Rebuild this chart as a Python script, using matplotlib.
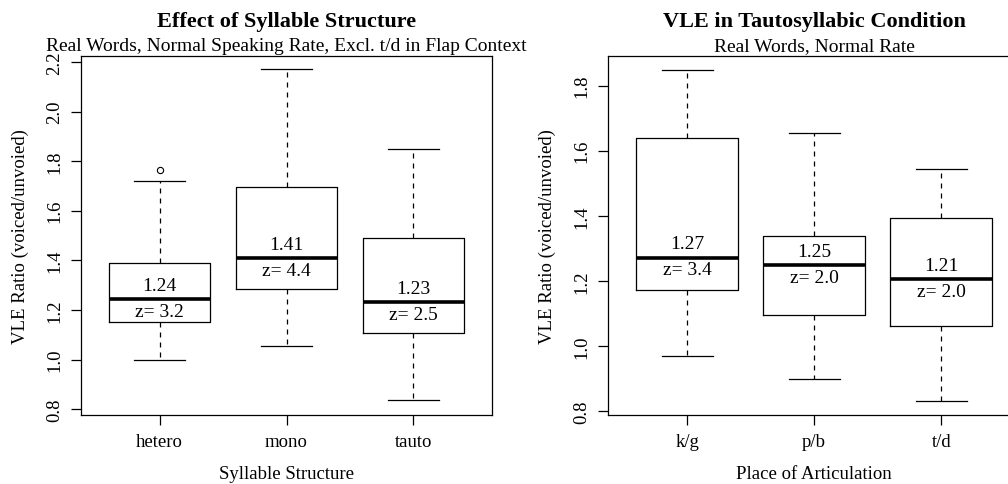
import matplotlib
matplotlib.use("Agg")
import matplotlib.pyplot as plt

plt.rcParams['font.family'] = ['Liberation Serif', 'DejaVu Serif']

# left panel: syllable structure
syl_labels = ["hetero", "mono", "tauto"]
syl_q1 = [1.151, 1.283, 1.106]
syl_med = [1.243, 1.408, 1.232]
syl_q3 = [1.388, 1.696, 1.491]
syl_lo = [1.000, 1.057, 0.836]
syl_hi = [1.720, 2.171, 1.848]
syl_fliers = [[1.766], [], []]
syl_z = ["3.2", "4.4", "2.5"]

# right panel: place of articulation
poa_labels = ["k/g", "p/b", "t/d"]
poa_q1 = [1.172, 1.095, 1.063]
poa_med = [1.271, 1.249, 1.205]
poa_q3 = [1.640, 1.339, 1.394]
poa_lo = [0.971, 0.898, 0.832]
poa_hi = [1.849, 1.654, 1.543]
poa_fliers = [[], [], []]
poa_z = ["3.4", "2.0", "2.0"]


def panel(ax, labels, q1, med, q3, lo, hi, fliers, zs, ylim, yticks,
          title, subtitle, xlabel):
    stats = []
    for i in range(len(labels)):
        stats.append(dict(med=med[i], q1=q1[i], q3=q3[i], whislo=lo[i],
                          whishi=hi[i], fliers=fliers[i], label=labels[i]))
    ax.bxp(stats, positions=[1, 2, 3], widths=0.8, showfliers=True,
           boxprops=dict(color="black", lw=0.9),
           medianprops=dict(color="black", lw=2.6, solid_capstyle="butt"),
           whiskerprops=dict(color="black", lw=0.9, linestyle=(0, (4, 4))),
           capprops=dict(color="black", lw=0.9),
           capwidths=0.4,
           flierprops=dict(marker="o", markerfacecolor="none",
                           markeredgecolor="black", markersize=4.5,
                           markeredgewidth=0.8))
    for i in range(len(labels)):
        ax.annotate("%.2f" % med[i], (i + 1, med[i]), xytext=(0, 14),
                    textcoords="offset pixels", ha="center", va="center",
                    fontsize=14)
        ax.annotate("z= " + zs[i], (i + 1, med[i]), xytext=(0, -12),
                    textcoords="offset pixels", ha="center", va="center",
                    fontsize=14)
    ax.set_xlim(0.38, 3.62)
    ax.set_ylim(*ylim)
    ax.set_yticks(yticks)
    ax.set_yticklabels(["%.1f" % t for t in yticks], rotation=90,
                       va="center", fontsize=13.5)
    ax.set_xticks([1, 2, 3])
    ax.set_xticklabels(labels, fontsize=13.5)
    ax.tick_params(direction="out", length=7, width=0.9, pad=6)
    for s in ax.spines.values():
        s.set_linewidth(0.9)
    ax.set_ylabel("VLE Ratio (voiced/unvoied)", fontsize=13.5)
    ax.yaxis.set_label_coords(-0.148, 0.5)
    ax.yaxis.label.set_va("center")
    ax.set_xlabel(xlabel, fontsize=13.5)
    ax.xaxis.set_label_coords(0.5, -0.164)
    ax.xaxis.label.set_va("center")
    ax.text(0.5, 1.0975, title, transform=ax.transAxes, ha="center",
            va="center", fontsize=16, fontweight="bold")
    ax.text(0.5, 1.028, subtitle, transform=ax.transAxes, ha="center",
            va="center", fontsize=14)


fig = plt.figure(figsize=(10.08, 4.85), dpi=100)
ax1 = fig.add_axes([0.0804, 0.1423, 0.4077, 0.7402])
ax2 = fig.add_axes([0.6035, 0.1423, 0.4084, 0.7402])

panel(ax1, syl_labels, syl_q1, syl_med, syl_q3, syl_lo, syl_hi, syl_fliers,
      syl_z, (0.777, 2.224), [0.8, 1.0, 1.2, 1.4, 1.6, 1.8, 2.0, 2.2],
      "Effect of Syllable Structure",
      "Real Words, Normal Speaking Rate, Excl. t/d in Flap Context",
      "Syllable Structure")
panel(ax2, poa_labels, poa_q1, poa_med, poa_q3, poa_lo, poa_hi, poa_fliers,
      poa_z, (0.789, 1.891), [0.8, 1.0, 1.2, 1.4, 1.6, 1.8],
      "VLE in Tautosyllabic Condition", "Real Words, Normal Rate",
      "Place of Articulation")

fig.savefig("out.png", dpi=100)
plt.close(fig)
